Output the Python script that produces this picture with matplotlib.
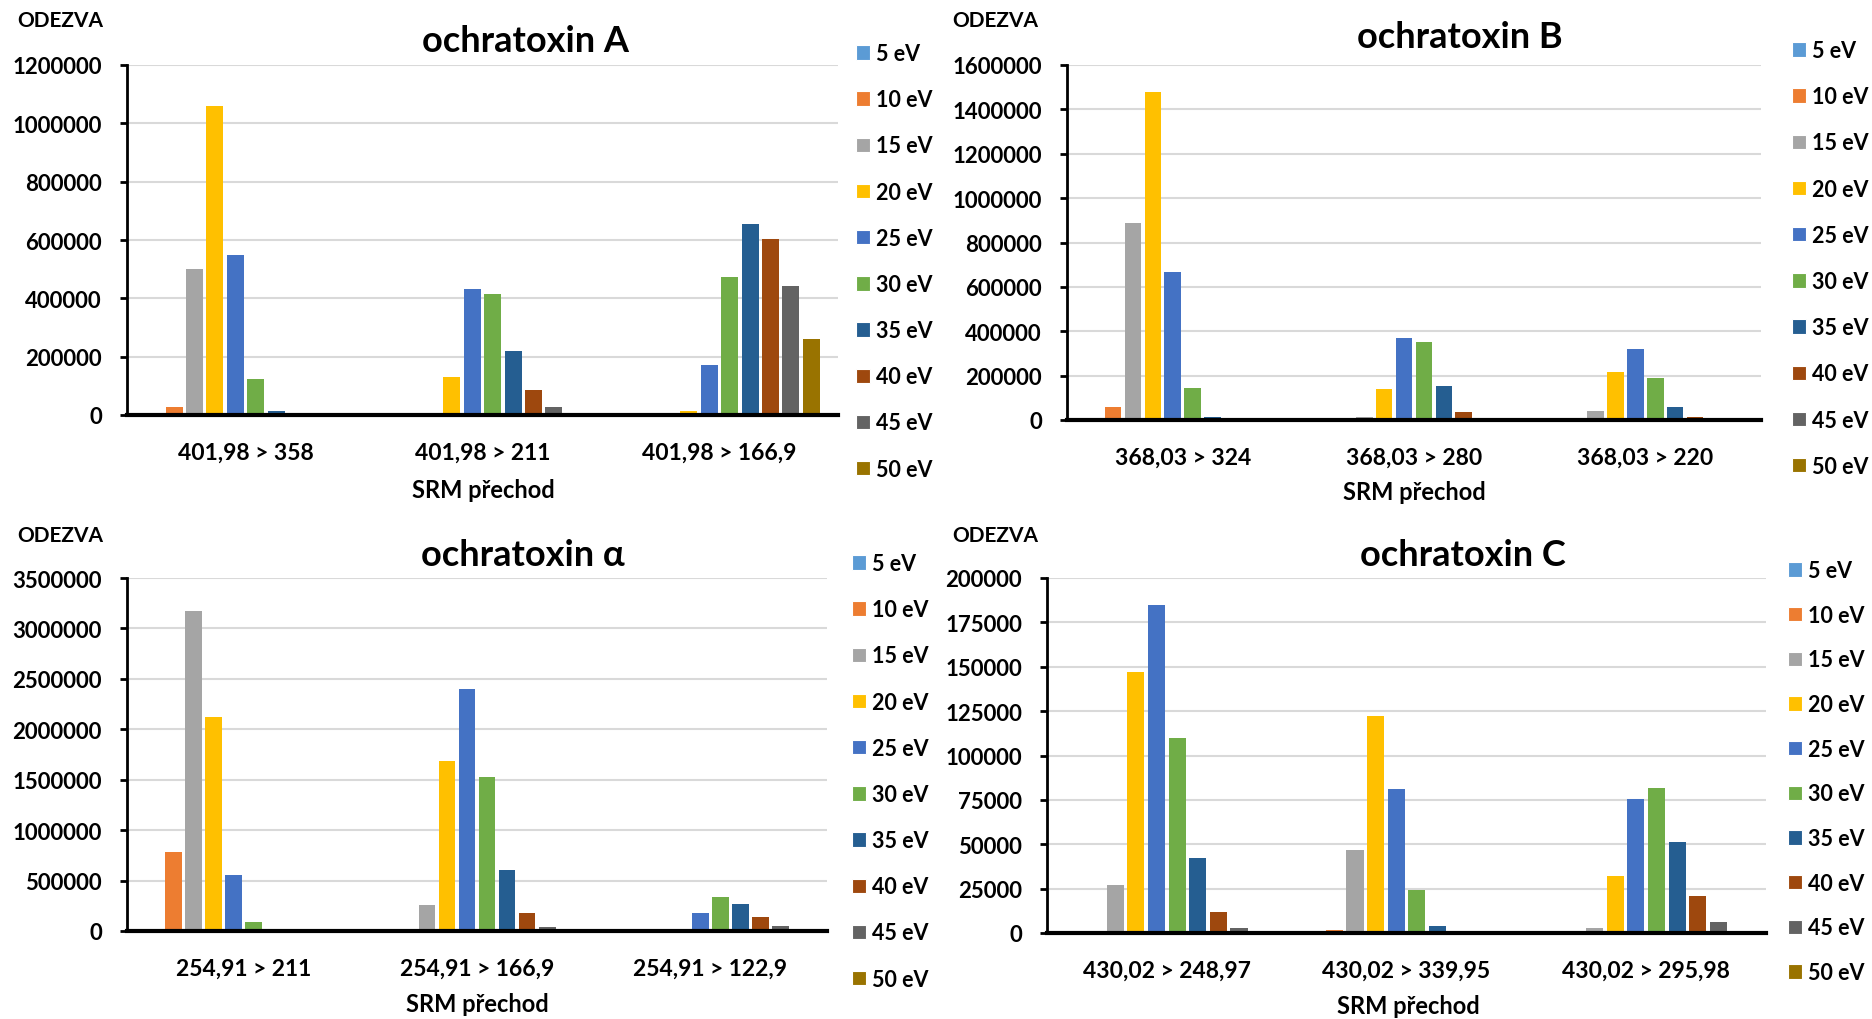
import numpy as np
import matplotlib
matplotlib.use("Agg")
import matplotlib.pyplot as plt
from matplotlib.patches import Patch

plt.rcParams['font.family'] = ['Lato', 'DejaVu Sans']
plt.rcParams['font.weight'] = 'bold'

energies = ['5 eV', '10 eV', '15 eV', '20 eV', '25 eV', '30 eV', '35 eV', '40 eV', '45 eV', '50 eV']
colors = ['#5B9BD5', '#ED7D31', '#A5A5A5', '#FFC000', '#4472C4',
          '#70AD47', '#255E91', '#9E480E', '#636363', '#997300']

# ochratoxin A
ota_transitions = ['401,98 > 358', '401,98 > 211', '401,98 > 166,9']
ota_values = [
    [0, 28000, 500000, 1060000, 548000, 125000, 14000, 0, 0, 0],
    [0, 0, 3000, 130000, 432000, 416000, 220000, 85000, 28000, 5000],
    [0, 0, 0, 15000, 172000, 474000, 655000, 602000, 442000, 262000],
]
ota_ticks = [0, 200000, 400000, 600000, 800000, 1000000, 1200000]

# ochratoxin B
otb_transitions = ['368,03 > 324', '368,03 > 280', '368,03 > 220']
otb_values = [
    [0, 57000, 890000, 1480000, 665000, 145000, 12000, 0, 0, 0],
    [0, 0, 15000, 140000, 370000, 350000, 155000, 38000, 4000, 0],
    [0, 0, 40000, 215000, 322000, 190000, 60000, 12000, 0, 0],
]
otb_ticks = [0, 200000, 400000, 600000, 800000, 1000000, 1200000, 1400000, 1600000]

# ochratoxin alpha
otalpha_transitions = ['254,91 > 211', '254,91 > 166,9', '254,91 > 122,9']
otalpha_values = [
    [0, 785000, 3170000, 2120000, 560000, 90000, 0, 0, 0, 0],
    [0, 0, 255000, 1690000, 2400000, 1530000, 600000, 175000, 35000, 0],
    [0, 0, 0, 15000, 180000, 335000, 270000, 140000, 45000, 0],
]
otalpha_ticks = [0, 500000, 1000000, 1500000, 2000000, 2500000, 3000000, 3500000]

# ochratoxin C
otc_transitions = ['430,02 > 248,97', '430,02 > 339,95', '430,02 > 295,98']
otc_values = [
    [0, 0, 27000, 147000, 185000, 110000, 42500, 12000, 3000, 0],
    [0, 1500, 47000, 122000, 81000, 24000, 4000, 0, 0, 0],
    [0, 0, 3000, 32000, 75500, 81500, 51000, 21000, 6000, 1000],
]
otc_ticks = [0, 25000, 50000, 75000, 100000, 125000, 150000, 175000, 200000]

W, H = 1872, 1020
fig = plt.figure(figsize=(W / 100, H / 100), dpi=100)


def px_axes(left, right, top, bottom):
    return fig.add_axes([left / W, 1 - bottom / H, (right - left) / W, (bottom - top) / H])


def panel(box, title, transitions, values, ticks, title_xy, odezva_xy, srm_xy, leg_xy,
          leg_spacing=1.17):
    ax = px_axes(*box)
    vals = np.array(values)
    n = len(energies)
    step = 0.86 / n
    x = np.arange(len(transitions))
    for i in range(n):
        ax.bar(x - 0.43 + step * (i + 0.5), vals[:, i], width=step * 0.83,
               color=colors[i], zorder=3)
    ax.set_xlim(-0.5, len(transitions) - 0.5)
    ax.set_ylim(0, ticks[-1])
    ax.set_yticks(ticks)
    ax.set_yticklabels([str(t) for t in ticks], fontweight='bold')
    ax.set_xticks(x)
    ax.set_xticklabels(transitions, fontweight='bold')
    ax.grid(axis='y', color='#d9d9d9', linewidth=1.5, zorder=0)
    for s in ['top', 'right']:
        ax.spines[s].set_visible(False)
    ax.spines['bottom'].set_linewidth(3)
    ax.spines['bottom'].set_zorder(4)
    ax.spines['left'].set_linewidth(2)
    ax.tick_params(axis='y', length=5, width=2, pad=13, labelsize=16)
    ax.tick_params(axis='x', length=0, pad=19, labelsize=16.5)

    fig.text(title_xy[0] / W, 1 - title_xy[1] / H, title, ha='center', va='center',
             fontsize=26, fontweight='bold')
    fig.text(odezva_xy[0] / W, 1 - odezva_xy[1] / H, 'ODEZVA', ha='center', va='center',
             fontsize=15, fontweight='bold')
    fig.text(srm_xy[0] / W, 1 - srm_xy[1] / H, 'SRM přechod', ha='center', va='center',
             fontsize=17, fontweight='bold')

    handles = [Patch(facecolor=c, edgecolor='white', linewidth=0.8) for c in colors]
    fig.legend(handles, energies, loc='upper left',
               bbox_to_anchor=(leg_xy[0] / W, 1 - leg_xy[1] / H),
               bbox_transform=fig.transFigure, frameon=False,
               prop={'size': 15.5, 'weight': 'bold'},
               borderpad=0, borderaxespad=0, handlelength=0.65, handleheight=0.65,
               handletextpad=0.3, labelspacing=leg_spacing)
    return ax


panel((127, 838, 66, 416), 'ochratoxin A', ota_transitions, ota_values, ota_ticks,
      (525, 42), (60, 21), (483, 491), (856, 44))
panel((1067, 1761, 66, 421), 'ochratoxin B', otb_transitions, otb_values, otb_ticks,
      (1460, 38), (995, 21), (1414, 493), (1792, 41))
panel((127, 827, 579, 932), 'ochratoxin α', otalpha_transitions, otalpha_values, otalpha_ticks,
      (523, 556), (60, 536), (477, 1005), (852, 554))
panel((1047, 1766, 579, 934), 'ochratoxin C', otc_transitions, otc_values, otc_ticks,
      (1463, 556), (995, 536), (1408, 1007), (1788, 561), leg_spacing=1.1)

fig.savefig('out.png', dpi=100)
